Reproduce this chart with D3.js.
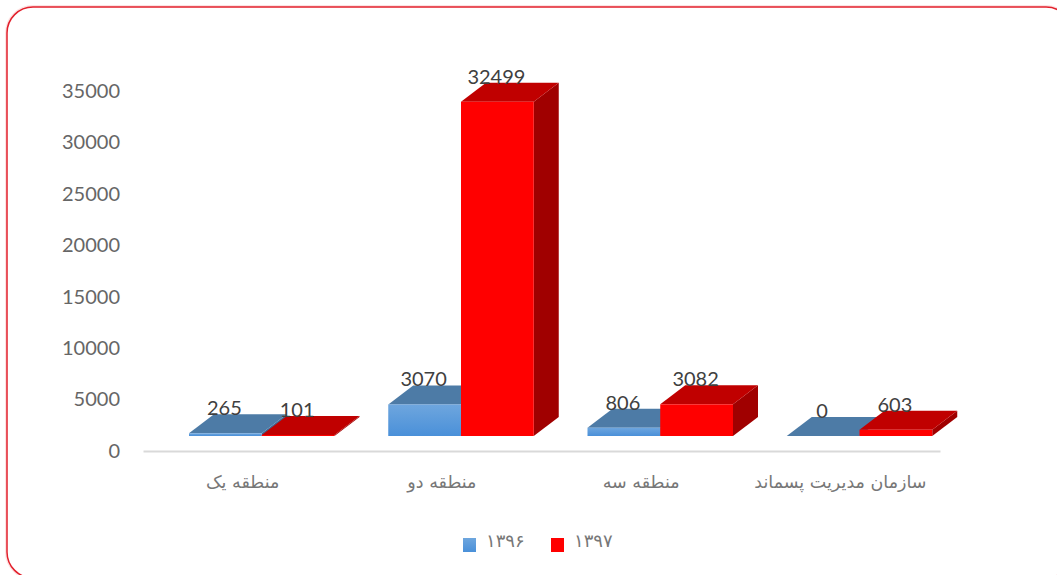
<!DOCTYPE html>
<html>
<head>
<meta charset="utf-8">
<script src="https://cdnjs.cloudflare.com/ajax/libs/d3/7.8.5/d3.min.js"></script>
<style>
html, body { margin: 0; padding: 0; background: #fff; }
svg { display: block; }
</style>
</head>
<body>
<svg width="1057" height="575"></svg>
<script>
var categories = ["منطقه یک", "منطقه دو", "منطقه سه", "سازمان مدیریت پسماند"];
var seriesNames = ["۱۳۹۶", "۱۳۹۷"];
var values1396 = [265, 3070, 806, 0];
var values1397 = [101, 32499, 3082, 603];
var yTicks = [0, 5000, 10000, 15000, 20000, 25000, 30000, 35000];

var latinFont = "Lato, 'Open Sans', sans-serif";
var arabicFont = "'DejaVu Sans', sans-serif";

var svg = d3.select("svg");

// chart frame, right and bottom edges run off the picture
svg.append("rect")
	.attr("x", 7).attr("y", 7)
	.attr("width", 1065).attr("height", 571)
	.attr("rx", 26).attr("ry", 26)
	.attr("fill", "none")
	.attr("stroke", "#fde3e3")
	.attr("stroke-width", 4);
svg.append("rect")
	.attr("x", 7).attr("y", 7)
	.attr("width", 1065).attr("height", 571)
	.attr("rx", 26).attr("ry", 26)
	.attr("fill", "#fff")
	.attr("stroke", "#e2202c")
	.attr("stroke-width", 1.5);

var defs = svg.append("defs");
var grad = defs.append("linearGradient")
	.attr("id", "blueFront")
	.attr("x1", 0).attr("y1", 0).attr("x2", 0).attr("y2", 1);
grad.append("stop").attr("offset", "0%").attr("stop-color", "#6ea6de");
grad.append("stop").attr("offset", "100%").attr("stop-color", "#4a90d9");

var x = d3.scaleBand().domain(categories).range([143, 940]);
var y = d3.scaleLinear().domain([0, 35000]).range([451, 91]);
var inner = d3.scaleBand().domain(seriesNames).range([46, 191.5]);

// the 3D floor sits above the axis line
var floorLift = 15;
var depthX = 25;
var depthY = 19;

var yAxis = d3.axisLeft(y).tickValues(yTicks).tickSize(0).tickPadding(0).tickFormat(d3.format("d"));
var yG = svg.append("g")
	.attr("transform", "translate(120,0)")
	.call(yAxis);
yG.select(".domain").remove();
yG.selectAll("text")
	.attr("font-family", latinFont)
	.attr("font-size", 20)
	.attr("fill", "#666666");

var xAxis = d3.axisBottom(x).tickSize(0).tickPadding(25);
var xG = svg.append("g")
	.attr("transform", "translate(0,451)")
	.call(xAxis);
xG.select(".domain")
	.attr("stroke", "#d9d9d9")
	.attr("stroke-width", 2);
xG.selectAll("text")
	.attr("font-family", arabicFont)
	.attr("font-size", 17.5)
	.attr("fill", "#777777");

var series = [
	{name: seriesNames[0], values: values1396, front: "url(#blueFront)", top: "#4d7ba6", side: "#3d6a96"},
	{name: seriesNames[1], values: values1397, front: "#ff0000", top: "#c00000", side: "#a00000"}
];

function drawBar(g, s, i){
	var x0 = x(categories[i]) + inner(s.name);
	var x1 = x0 + inner.bandwidth();
	var base = y(0) - floorLift;
	var top = y(s.values[i]) - floorLift;
	g.append("path")
		.attr("fill", s.side)
		.attr("d", d3.line()([[x1, base], [x1 + depthX, base - depthY], [x1 + depthX, top - depthY], [x1, top]]) + "Z");
	g.append("path")
		.attr("fill", s.top)
		.attr("d", d3.line()([[x0, top], [x0 + depthX, top - depthY], [x1 + depthX, top - depthY], [x1, top]]) + "Z");
	g.append("rect")
		.attr("x", x0).attr("y", top)
		.attr("width", x1 - x0).attr("height", base - top)
		.attr("fill", s.front);
}

categories.forEach(function(c, i){
	var g = svg.append("g").attr("class", "group");
	series.forEach(function(s){
		drawBar(g, s, i);
	});
});

// data labels go on last, they overlap the top faces
categories.forEach(function(c, i){
	series.forEach(function(s){
		svg.append("text")
			.attr("x", x(c) + inner(s.name) + inner.bandwidth() / 2 - 1)
			.attr("y", y(s.values[i]) - floorLift - 25)
			.attr("dy", "0.35em")
			.attr("text-anchor", "middle")
			.attr("font-family", latinFont)
			.attr("font-size", 20)
			.attr("fill", "#404040")
			.text(s.values[i]);
	});
});

// legend
var legendX = d3.scaleOrdinal().domain(seriesNames).range([463, 551]);
seriesNames.forEach(function(name, i){
	svg.append("rect")
		.attr("x", legendX(name)).attr("y", 538)
		.attr("width", 13).attr("height", 14)
		.attr("fill", series[i].front);
	svg.append("text")
		.attr("x", legendX(name) + 23).attr("y", 541)
		.attr("dy", "0.35em")
		.attr("font-family", arabicFont)
		.attr("font-size", 18)
		.attr("letter-spacing", 3.5)
		.attr("fill", "#777777")
		.text(name);
});
</script>
</body>
</html>
